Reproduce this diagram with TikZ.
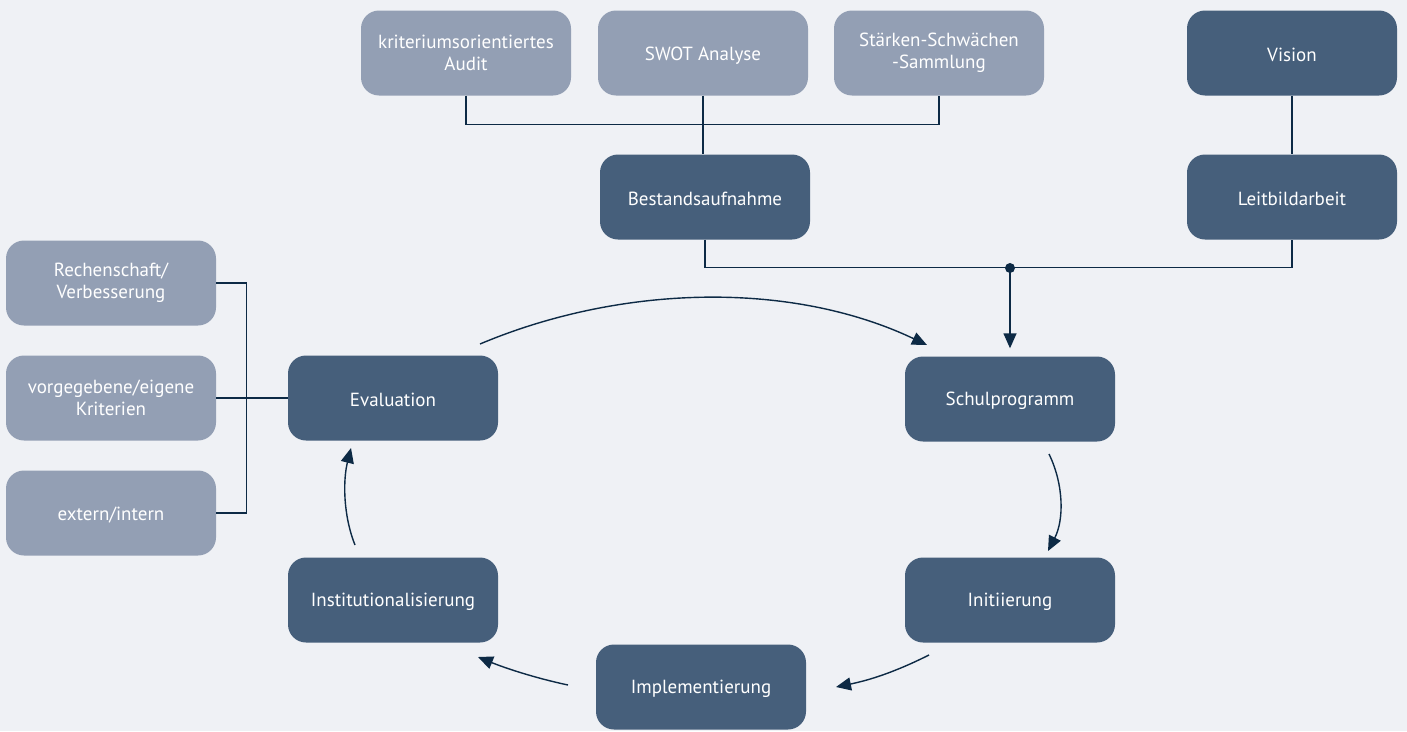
\documentclass[tikz,border=0pt]{standalone}
\usepackage{fontspec}
\setmainfont{PT Sans}
\usetikzlibrary{arrows.meta,calc}
\definecolor{bgc}{HTML}{EFF1F5}
\definecolor{lightbox}{HTML}{939FB4}
\definecolor{darkbox}{HTML}{465F7B}
\definecolor{linec}{HTML}{0D2A45}
\begin{document}
\begin{tikzpicture}[x=1pt,y=-1pt,
  box/.style={rounded corners=18pt, minimum width=210pt, minimum height=85pt, inner sep=0pt,
    text=white, align=center, font=\fontsize{19}{22}\selectfont,
    execute at begin node={\rule{0pt}{18pt}}},
  lbox/.style={box, fill=lightbox},
  dbox/.style={box, fill=darkbox},
  conn/.style={draw=linec, line width=1.4pt},
  arr/.style={conn, -{Triangle[length=15pt,width=13pt]}}]
\useasboundingbox (0,0) rectangle (1407,731);
\fill[bgc] (0,0) rectangle (1407,731);
% top row
\node[lbox] (audit) at (466,53) {kriteriumsorientiertes\\Audit};
\node[lbox] (swot) at (703,53) {SWOT Analyse};
\node[lbox] (staerken) at (939,53) {Stärken-Schwächen\\-Sammlung};
\node[dbox] (vision) at (1292,53) {Vision};
% second row
\node[dbox] (bestand) at (705,197) {Bestandsaufnahme};
\node[dbox] (leitbild) at (1292,197) {Leitbildarbeit};
% left column
\node[lbox] (recht) at (111,283) {Rechenschaft/\\Verbesserung};
\node[lbox] (krit) at (111,398) {vorgegebene/eigene\\Kriterien};
\node[lbox] (extern) at (111,513) {extern/intern};
% cycle
\node[dbox] (eval) at (393,398) {Evaluation};
\node[dbox] (schul) at (1010,399) {Schulprogramm};
\node[dbox] (init) at (1010,600) {Initiierung};
\node[dbox] (inst) at (393,600) {Institutionalisierung};
\node[dbox] (impl) at (701,687) {Implementierung};
% tree connectors
\draw[conn] (audit.south) -- ++(0,29) -| (staerken.south);
\draw[conn] (swot.south) -- (swot.south |- bestand.north);
\draw[conn] (vision.south) -- (leitbild.north);
\draw[conn] (bestand.south) -- ++(0,28) -| (leitbild.south);
\coordinate (j) at (schul.north |- 0,268);
\fill[linec] (j) circle (5pt);
\draw[arr, shorten >=8pt] (j) -- (schul.north);
% left bracket
\draw[conn] (recht.east) -- ++(30,0) |- (extern.east);
\draw[conn] (krit.east) -- (eval.west);
% cycle arrows
\coordinate (a1) at (480,344);
\coordinate (a2) at (927,345);
\draw[arr] (a1) .. controls (620,285) and (790,280) .. (a2);
\coordinate (b1) at (1049,454);
\coordinate (b2) at (1048,551);
\draw[arr] (b1) .. controls (1064,485) and (1064,520) .. (b2);
\coordinate (c1) at (929,655);
\coordinate (c2) at (836,687);
\draw[arr] (c1) .. controls (895,672) and (870,680) .. (c2);
\coordinate (d1) at (568,685);
\coordinate (d2) at (478,657);
\draw[arr] (d1) .. controls (535,678) and (505,668) .. (d2);
\coordinate (e1) at (355,545);
\coordinate (e2) at (351,448);
\draw[arr] (e1) .. controls (343,515) and (343,480) .. (e2);
\end{tikzpicture}
\end{document}
